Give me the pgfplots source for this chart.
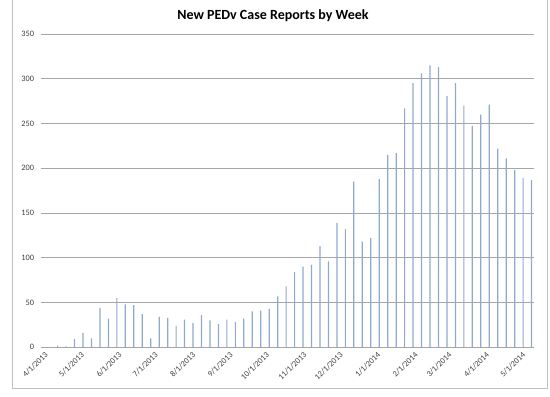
\documentclass[border=0pt]{standalone}
\usepackage{pgfplots}
\pgfplotsset{compat=1.18}
\usepackage{fontspec}
\setmainfont{Carlito}
\definecolor{barc}{HTML}{8FAACC}
\definecolor{gridc}{HTML}{A6A6A6}
\definecolor{borderc}{HTML}{BFBFBF}
\definecolor{txt}{HTML}{404040}
\pgfplotstableread{
day cases
14 2
21 1
28 9
35 16
42 10
49 44
56 32
63 55
70 48
77 47
84 37
91 10
98 34
105 33
112 24
119 31
126 27
133 36
140 30
147 26
154 31
161 28
168 32
175 40
182 41
189 43
196 57
203 68
210 84
217 90
224 92
231 113
238 96
245 139
252 132
259 185
266 118
273 122
280 188
287 215
294 217
301 267
308 295
315 306
322 315
329 313
336 281
343 295
350 270
357 247
364 260
371 271
378 222
385 211
392 198
399 189
406 187
}\cases
\begin{document}
\begin{tikzpicture}[x=1pt,y=1pt]
\useasboundingbox (0,0) rectangle (550,397);
\draw[color=borderc, line width=0.9pt] (12,397) -- (12,9) -- (547.7,9) -- (547.7,397);
\node[font=\fontsize{14}{16}\selectfont\bfseries, text=black] at (273,381) {New PEDv Case Reports by Week};
\begin{axis}[
  at={(40.7pt,49.7pt)}, anchor=south west,
  scale only axis, width=493.3pt, height=313.3pt,
  xmin=0, xmax=408, ymin=0, ymax=350,
  ybar, bar width=1.2pt,
  axis line style={draw=none},
  ytick={0,50,...,350},
  ymajorgrids, grid style={color=gridc, line width=0.8pt},
  major tick length=0pt,
  xtick={0,30,61,91,122,153,183,214,244,275,306,334,365,395},
  xticklabels={4/1/2013,5/1/2013,6/1/2013,7/1/2013,8/1/2013,9/1/2013,10/1/2013,11/1/2013,12/1/2013,1/1/2014,2/1/2014,3/1/2014,4/1/2014,5/1/2014},
  xticklabel style={rotate=45, anchor=north east, inner sep=0pt, yshift=-5pt, font=\fontsize{8.3}{10}\selectfont, text=txt},
  yticklabel style={anchor=east, inner sep=0pt, xshift=-6.5pt, font=\fontsize{8.3}{10}\selectfont, text=txt},
  /pgf/number format/assume math mode=true,
]
\addplot[fill=barc, draw=none] table[x=day, y=cases] {\cases};
\end{axis}
\end{tikzpicture}
\end{document}
